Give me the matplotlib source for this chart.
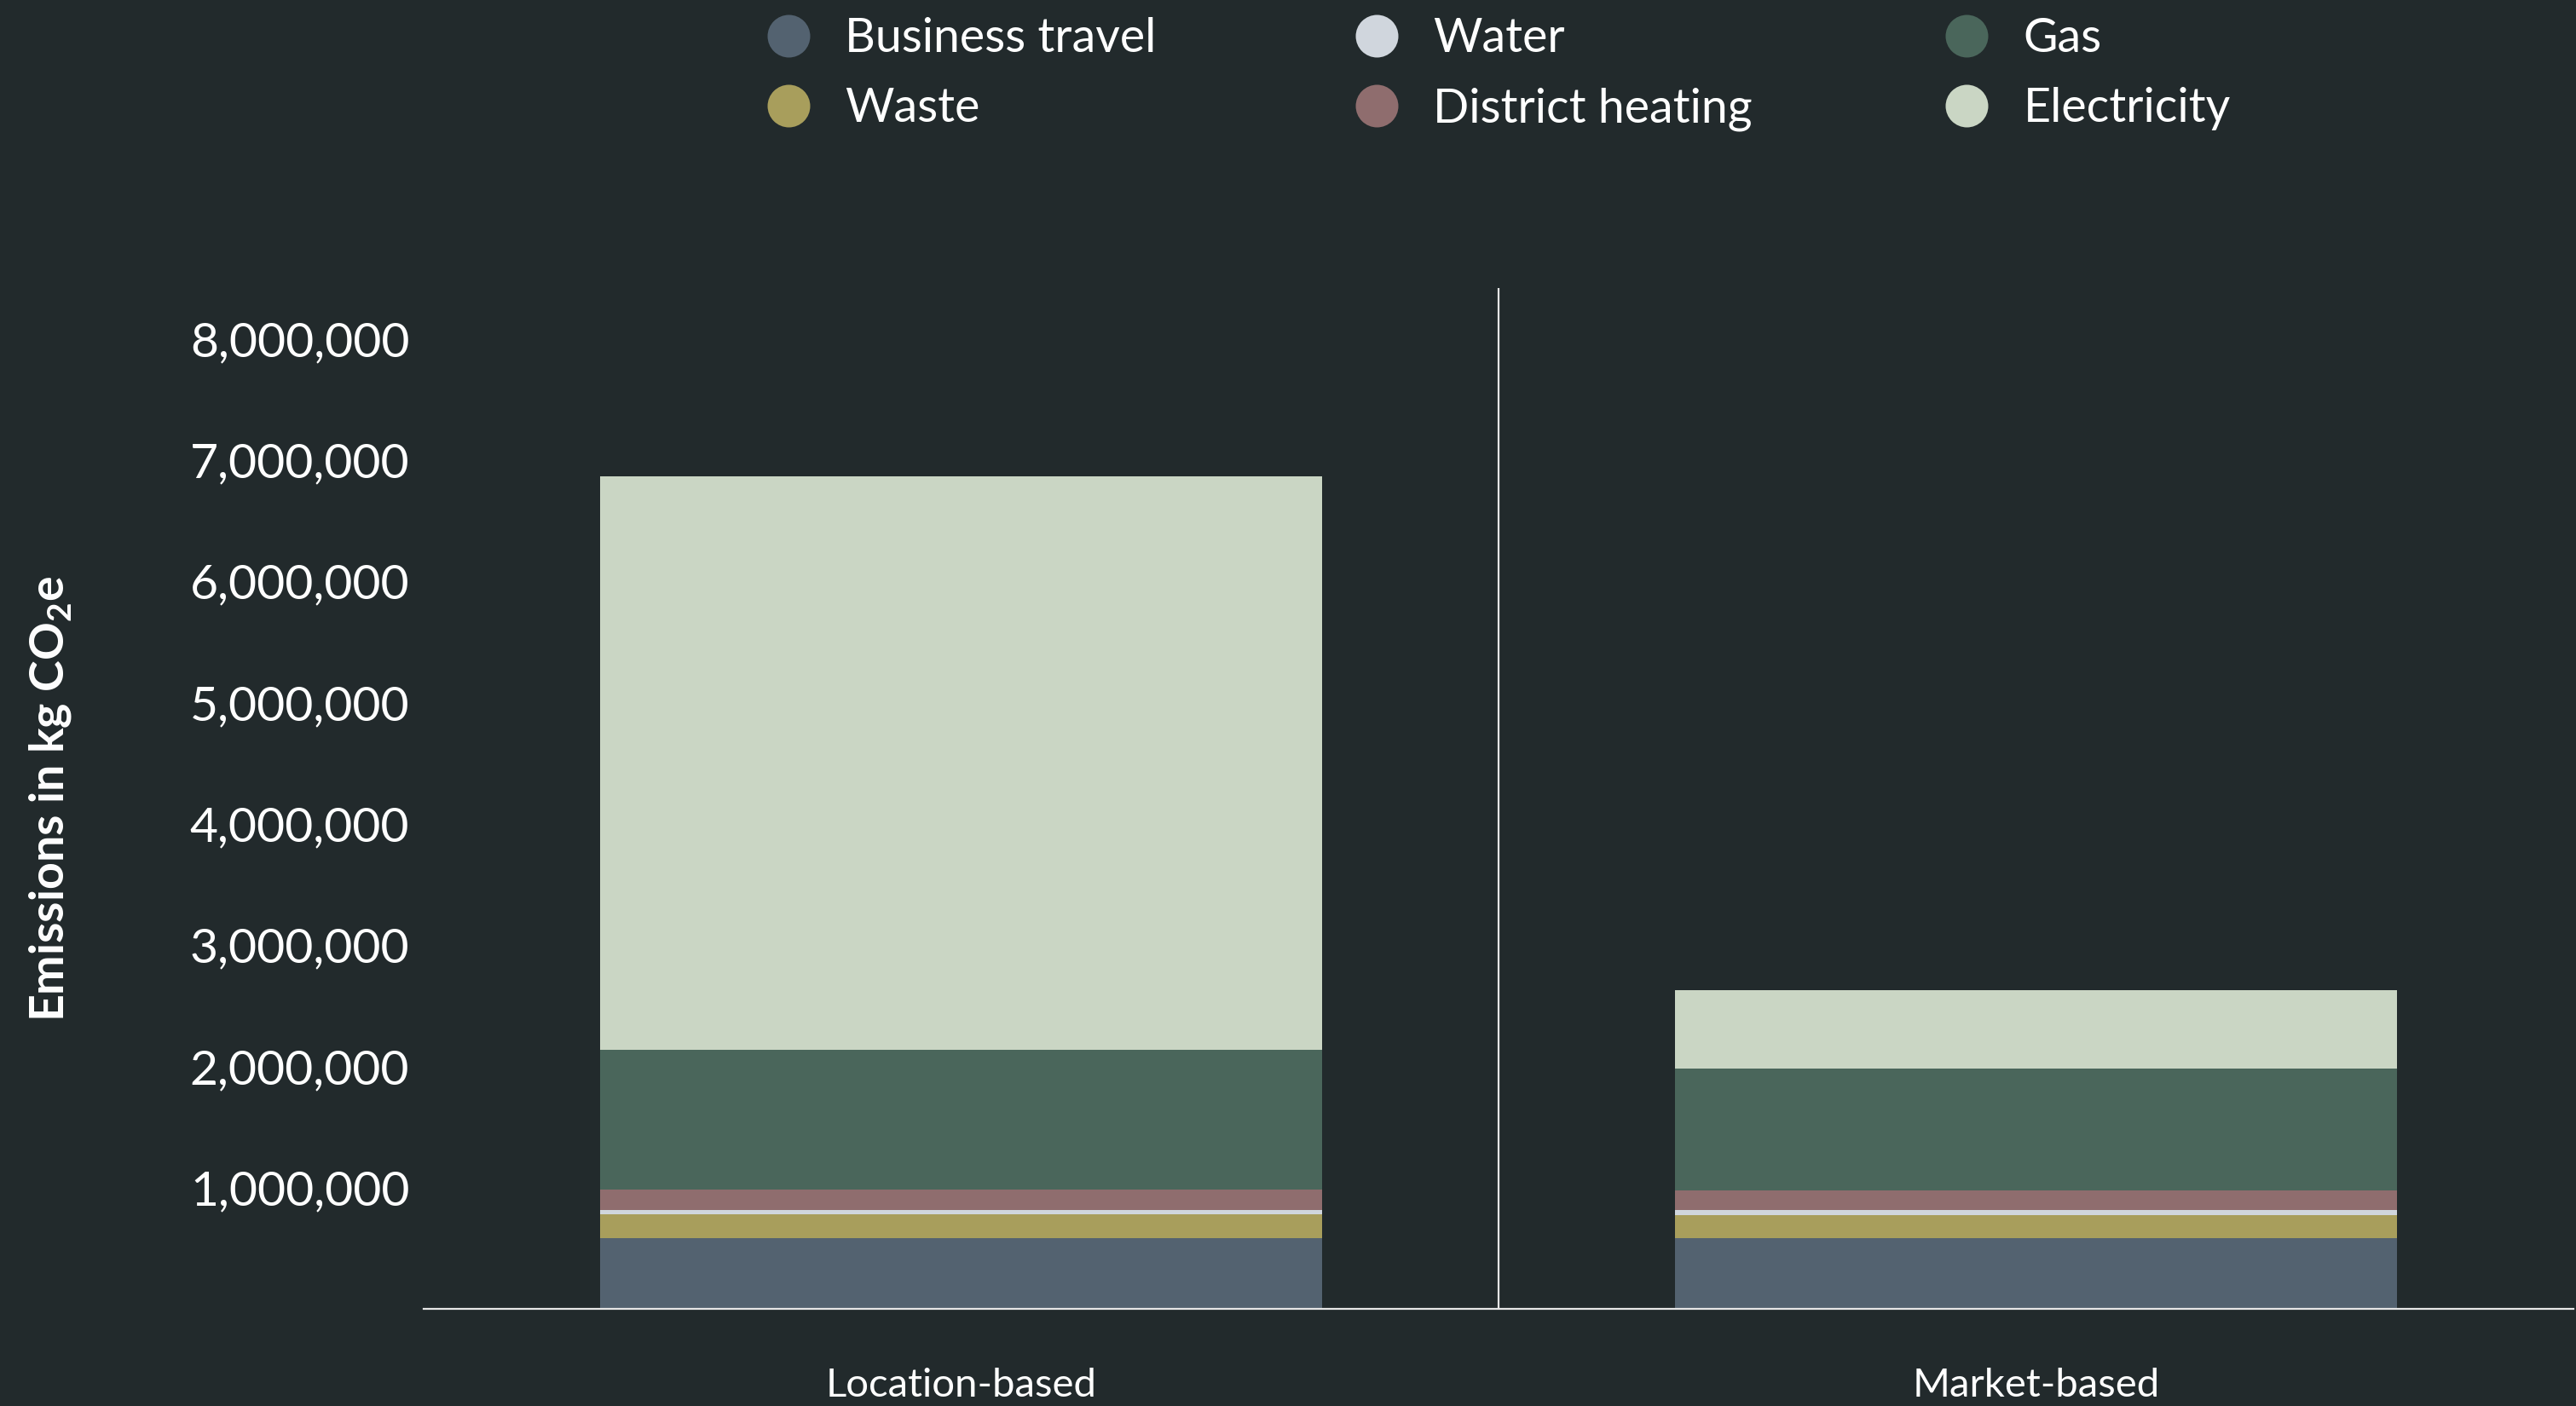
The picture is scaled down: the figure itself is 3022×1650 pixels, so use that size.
import matplotlib
matplotlib.use("Agg")
import matplotlib.pyplot as plt
from matplotlib.lines import Line2D
from matplotlib.ticker import FuncFormatter

# ---- data ----
categories = ["Location-based", "Market-based"]
series_names = ["Business travel", "Waste", "Water", "District heating", "Gas", "Electricity"]
business_travel = [580000, 580000]
waste = [198000, 195000]
water = [37000, 40000]
district_heating = [168000, 165000]
gas = [1155000, 1003000]
electricity = [4726000, 646000]
y_ticks = [1000000, 2000000, 3000000, 4000000, 5000000, 6000000, 7000000, 8000000]

series_values = [business_travel, waste, water, district_heating, gas, electricity]
colors = ["#536270", "#a89e5c", "#d0d6dd", "#8f6d6e", "#4a665b", "#cad6c4"]

BG = "#222a2c"
plt.rcParams["font.family"] = ["Lato", "DejaVu Sans"]

fig = plt.figure(figsize=(30.22, 16.5), dpi=100, facecolor=BG)
ax = fig.add_axes([497 / 3022, (1650 - 1536) / 1650, 2522 / 3022, (1536 - 338) / 1650])
ax.set_facecolor(BG)

x = list(range(len(categories)))
bottoms = [0.0] * len(categories)
handles = []
for name, vals, c in zip(series_names, series_values, colors):
    ax.bar(x, vals, bottom=bottoms, width=0.672, color=c, linewidth=0, zorder=2)
    bottoms = [b + v for b, v in zip(bottoms, vals)]
    handles.append(Line2D([], [], linestyle="none", marker="o", markersize=36,
                          markerfacecolor=c, markeredgewidth=0, label=name))

ax.set_xlim(-0.5, 1.5)
ax.set_ylim(0, 8.42e6)
ax.axvline(0.5, color="#e6e6e6", lw=1.6, zorder=1)

ax.set_yticks(y_ticks)
ax.yaxis.set_major_formatter(FuncFormatter(lambda v, p: f"{int(v):,}"))
ax.tick_params(axis="y", length=0, pad=12, labelsize=41, labelcolor="white")
ax.set_xticks(x)
ax.set_xticklabels(categories)
ax.tick_params(axis="x", length=0, pad=50, labelsize=34, labelcolor="white")

for s in ["left", "right", "top"]:
    ax.spines[s].set_visible(False)
ax.spines["bottom"].set_color("#e6e6e6")
ax.spines["bottom"].set_linewidth(1.6)
ax.spines["bottom"].set_zorder(3)

ax.set_ylabel("Emissions in kg CO$_\\mathregular{2}$e", fontsize=40, fontweight="bold",
              color="white")
ax.yaxis.set_label_coords(-0.163, 0.5)

# legend: three columns, row 1: BT, Water, Gas; row 2: Waste, DH, Electricity
col_x = [925, 1615, 2307]
for i, cx in enumerate(col_x):
    leg = fig.legend(handles=handles[2 * i:2 * i + 2], loc="upper left",
                     bbox_to_anchor=((cx - 28) / 3022, 1 - 20 / 1650),
                     frameon=False, fontsize=40, handlelength=1.0,
                     handletextpad=0.7, labelspacing=0.56, borderpad=0,
                     borderaxespad=0, labelcolor="white")

fig.savefig("out.png", dpi=100, facecolor=BG)
